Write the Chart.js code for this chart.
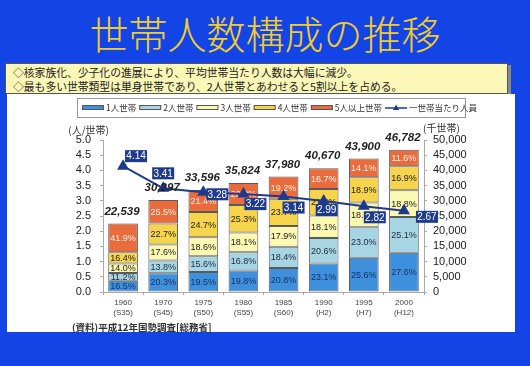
<!DOCTYPE html>
<html lang="ja">
<head>
<meta charset="utf-8">
<title>世帯人数構成の推移</title>
<script src="https://cdn.jsdelivr.net/npm/chart.js@4.4.1/dist/chart.umd.min.js"></script>
<style>
  html, body { margin: 0; padding: 0; }
  body {
    width: 530px; height: 366px; overflow: hidden; position: relative;
    background: #1244e6;
    font-family: "Noto Sans CJK JP", "Noto Sans", sans-serif;
  }
  #title {
    position: absolute; left: 0; top: 13px; width: 530px;
    text-align: center; font-size: 39px; line-height: 39px;
    color: #f2cc2c; font-weight: 300;
  }
  #note {
    position: absolute; left: 5px; top: 63px; width: 503px; height: 31px;
    background: #fbf7b6; border: 1px solid #555;
    box-shadow: 3px 2px 0 #888;
    font-size: 10.8px; line-height: 14px; color: #222;
    padding: 1px 0 0 7px; box-sizing: border-box;
  }
  #panel {
    position: absolute; left: 7px; top: 94px; width: 508px; height: 238px;
    background: #fff;
  }
  #chartBox { position: absolute; left: 0; top: 0; width: 508px; height: 228px; }
  #source {
    position: absolute; left: 65px; top: 227px;
    font-size: 9.5px; font-weight: bold; color: #333; line-height: 12px;
  }
</style>
</head>
<body>
<div id="title">世帯人数構成の推移</div>
<div id="note">◇核家族化、少子化の進展により、平均世帯当たり人数は大幅に減少。<br>◇最も多い世帯類型は単身世帯であり、2人世帯とあわせると5割以上を占める。</div>
<div id="panel">
  <div id="chartBox"><canvas id="chart" width="508" height="228"></canvas></div>
  <div id="source">(資料)平成12年国勢調査[総務省]</div>
</div>
<script>
// ========== DATA ==========
const years = [
  ['1960', '(S35)'], ['1970', '(S45)'], ['1975', '(S50)'], ['1980', '(S55)'],
  ['1985', '(S60)'], ['1990', '(H2)'], ['1995', '(H7)'], ['2000', '(H12)']
];
// total households (thousand)
const totals = [22539, 30297, 33596, 35824, 37980, 40670, 43900, 46782];
// share of each household size (%)
const share1 = [16.5, 20.3, 19.5, 19.8, 20.8, 23.1, 25.6, 27.6];
const share2 = [11.2, 13.8, 15.6, 16.8, 18.4, 20.6, 23.0, 25.1];
const share3 = [14.0, 17.6, 18.6, 18.1, 17.9, 18.1, 18.5, 18.8];
const share4 = [16.4, 22.7, 24.7, 25.3, 23.7, 21.6, 18.9, 16.9];
const share5 = [41.9, 25.5, 21.4, 20.2, 19.2, 16.7, 14.1, 11.6];
// persons per household
const perHousehold = [4.14, 3.41, 3.28, 3.22, 3.14, 2.99, 2.82, 2.67];

const seriesNames = ['1人世帯', '2人世帯', '3人世帯', '4人世帯', '5人以上世帯'];
const lineName = '一世帯当たり人員';
const leftTicks = { min: 0, max: 5, step: 0.5 };
const rightTicks = { min: 0, max: 50000, step: 5000 };

// ========== STYLE ==========
const barColors = ['#3f90dc', '#a8d5e3', '#fbf8b2', '#f6d44c', '#ea6c3c'];
const pctColors = ['#15305f', '#1d2a40', '#222', '#222', '#fff3ee'];
const navy = '#1e3a8c';
// label box offsets from each line point (px)
const lineLabelOffsets = [[13, -10], [0, -15], [14, 2], [12, 10], [10, 11], [3, 9], [11, 11], [23, 6]];
const numFont = '"Liberation Sans", Arial, sans-serif';
const jpFont = '"Noto Sans CJK JP", sans-serif';

const shares = [share1, share2, share3, share4, share5];

function toHouseholds(share) {
  return share.map((p, i) => totals[i] * p / 100);
}

const barSets = shares.map((s, k) => ({
  type: 'bar',
  label: seriesNames[k],
  data: toHouseholds(s),
  backgroundColor: barColors[k],
  borderColor: '#5a5a5a',
  borderWidth: 1,
  borderSkipped: false,
  yAxisID: 'yR',
  stack: 'h',
  order: 1,
  barPercentage: 0.74,
  categoryPercentage: 1.0
}));

const lineSet = {
  type: 'line',
  label: lineName,
  data: perHousehold,
  borderColor: navy,
  borderWidth: 2,
  pointStyle: 'triangle',
  pointRadius: 5,
  pointBackgroundColor: navy,
  pointBorderColor: navy,
  yAxisID: 'yL',
  order: 0,
  tension: 0
};

// ========== PLUGINS ==========
const pctLabels = {
  id: 'pctLabels',
  afterDatasetDraw(chart, args) {
    const k = args.index;
    if (k > 4) return;
    const ctx = chart.ctx;
    ctx.save();
    ctx.font = '9px ' + numFont;
    ctx.textAlign = 'center';
    ctx.textBaseline = 'middle';
    ctx.fillStyle = pctColors[k];
    args.meta.data.forEach((el, i) => {
      const cy = (el.y + el.base) / 2;
      ctx.fillText(shares[k][i].toFixed(1) + '%', el.x, cy + 0.5);
    });
    ctx.restore();
  }
};

const overlay = {
  id: 'overlay',
  afterDatasetsDraw(chart) {
    const ctx = chart.ctx;
    // totals above bars
    const top = chart.getDatasetMeta(4);
    ctx.save();
    ctx.font = 'italic bold 11.5px ' + numFont;
    ctx.fillStyle = '#222';
    ctx.textAlign = 'center';
    ctx.textBaseline = 'middle';
    top.data.forEach((el, i) => {
      ctx.fillText(totals[i].toLocaleString('en-US'), el.x - 1, el.y - 12);
    });
    // line value boxes
    const lm = chart.getDatasetMeta(5);
    ctx.font = '10px ' + numFont;
    lm.data.forEach((pt, i) => {
      const [dx, dy] = lineLabelOffsets[i];
      const cx = pt.x + dx, cy = pt.y + dy;
      const w = 22, h = 12;
      ctx.fillStyle = navy;
      ctx.fillRect(cx - w / 2, cy - h / 2, w, h);
      ctx.fillStyle = '#fff';
      ctx.fillText(perHousehold[i].toFixed(2), cx, cy + 0.5);
    });
    ctx.restore();
  },
  afterDraw(chart) {
    const ctx = chart.ctx;
    const a = chart.chartArea;
    ctx.save();
    // axis titles
    ctx.font = '10px ' + jpFont;
    ctx.fillStyle = '#333';
    ctx.textBaseline = 'middle';
    ctx.textAlign = 'right';
    ctx.fillText('(人/世帯)', a.left + 6, a.top - 10);
    ctx.textAlign = 'left';
    ctx.fillText('(千世帯)', a.right - 1, a.top - 12);

    // legend
    const lx0 = 70, ly0 = 4, lw = 388, lh = 19;
    ctx.strokeStyle = '#9a9a9a';
    ctx.lineWidth = 1;
    ctx.strokeRect(lx0 + 0.5, ly0 + 0.5, lw, lh);
    ctx.font = '8.5px ' + jpFont;
    ctx.textAlign = 'left';
    let x = lx0 + 5;
    const cy = ly0 + lh / 2 + 0.5;
    chart.data.datasets.forEach((ds, k) => {
      if (k < 5) {
        ctx.fillStyle = ds.backgroundColor;
        ctx.fillRect(x, cy - 3, 22, 5);
        ctx.strokeStyle = '#555';
        ctx.strokeRect(x + 0.5, cy - 2.5, 21, 4);
      } else {
        ctx.strokeStyle = navy;
        ctx.lineWidth = 1.5;
        ctx.beginPath();
        ctx.moveTo(x, cy);
        ctx.lineTo(x + 22, cy);
        ctx.stroke();
        ctx.fillStyle = navy;
        ctx.beginPath();
        ctx.moveTo(x + 11, cy - 3.5);
        ctx.lineTo(x + 14, cy + 2);
        ctx.lineTo(x + 8, cy + 2);
        ctx.closePath();
        ctx.fill();
        ctx.lineWidth = 1;
      }
      x += 24;
      ctx.fillStyle = '#333';
      ctx.fillText(ds.label, x, cy);
      x += ctx.measureText(ds.label).width + 3;
    });
    ctx.restore();
  }
};

// ========== CHART ==========
new Chart(document.getElementById('chart'), {
  data: {
    labels: years,
    datasets: [...barSets, lineSet]
  },
  options: {
    responsive: false,
    animation: false,
    layout: { padding: { top: 46, left: 0, right: 0, bottom: 0 } },
    plugins: {
      legend: { display: false },
      tooltip: { enabled: false }
    },
    scales: {
      x: {
        stacked: true,
        grid: { display: true, drawOnChartArea: false, tickLength: 3, color: '#aaa', offset: true },
        border: { display: true, color: '#aaa' },
        ticks: {
          font: { family: numFont, size: 8 },
          color: '#444',
          padding: 3,
          maxRotation: 0,
          autoSkip: false
        },
        afterFit(scale) { scale.height = 30; }
      },
      yL: {
        position: 'left',
        min: leftTicks.min,
        max: leftTicks.max,
        grid: { display: true, drawOnChartArea: false, tickLength: 3, color: '#aaa' },
        border: { display: true, color: '#aaa' },
        ticks: {
          stepSize: leftTicks.step,
          autoSkip: false,
          font: { family: numFont, size: 11 },
          color: '#222',
          padding: 9,
          callback: v => v.toFixed(1)
        },
        afterFit(scale) { scale.width = 96; }
      },
      yR: {
        position: 'right',
        stacked: true,
        min: rightTicks.min,
        max: rightTicks.max,
        grid: { display: true, drawOnChartArea: false, tickLength: 3, color: '#aaa' },
        border: { display: true, color: '#aaa' },
        ticks: {
          stepSize: rightTicks.step,
          autoSkip: false,
          font: { family: numFont, size: 11 },
          color: '#222',
          padding: 6,
          callback: v => v.toLocaleString('en-US')
        },
        afterFit(scale) { scale.width = 91; }
      }
    }
  },
  plugins: [pctLabels, overlay]
});
</script>
</body>
</html>
